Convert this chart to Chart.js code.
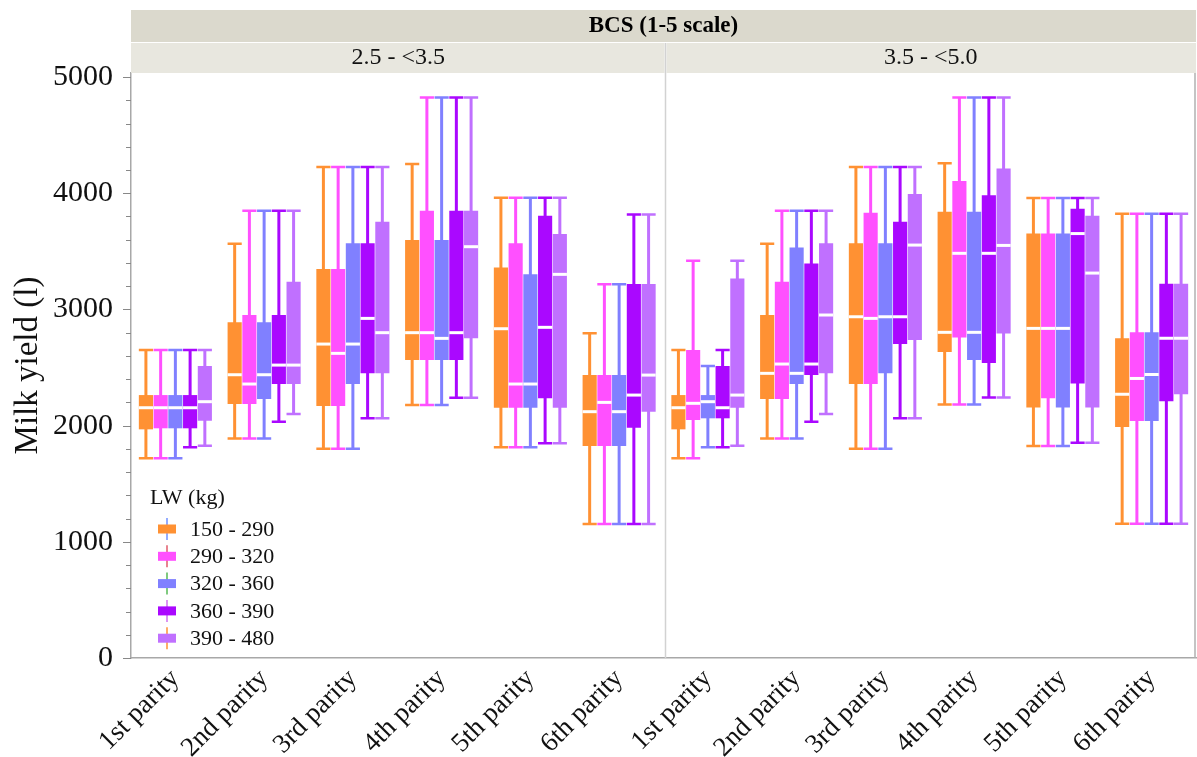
<!DOCTYPE html>
<html>
<head>
<meta charset="utf-8">
<title>Milk yield by parity, BCS and LW</title>
<script src="https://cdn.jsdelivr.net/npm/chart.js@4.4.1/dist/chart.umd.min.js"></script>
<style>
  html, body { margin: 0; padding: 0; background: #ffffff; }
  #wrap { width: 1197px; height: 757px; }
</style>
</head>
<body>
<div id="wrap"><canvas id="yieldChart" width="1197" height="757"></canvas></div>
<script>
// Categories and panels
const parities = ['1st parity', '2nd parity', '3rd parity', '4th parity', '5th parity', '6th parity'];
const bcsPanels = ['2.5 - <3.5', '3.5 - <5.0'];
const bcsTitle = 'BCS (1-5 scale)';
const lwGroups = ['150 - 290', '290 - 320', '320 - 360', '360 - 390', '390 - 480'];
const lwColors = ['#FF9133', '#FF50FF', '#8080FF', '#AA08FF', '#C070FF'];
const legendLineColors = ['#7090FF', '#E05A6A', '#55B855', '#D070F0', '#FF9133'];
const yTickValues = [0, 1000, 2000, 3000, 4000, 5000];
const yMinorStep = 200;

// Box statistics: one row per LW group, 12 values (panel 1: parity 1-6, panel 2: parity 1-6)
const whiskerLow = [
  [1720, 1890, 1800, 2177, 1813, 1153, 1720, 1890, 1800, 2181, 1825, 1155],
  [1720, 1890, 1800, 2177, 1813, 1153, 1720, 1890, 1800, 2181, 1825, 1155],
  [1720, 1890, 1800, 2177, 1813, 1153, 1813, 1890, 1800, 2181, 1825, 1155],
  [1813, 2034, 2063, 2240, 1848, 1153, 1813, 2034, 2063, 2243, 1852, 1155],
  [1827, 2100, 2063, 2240, 1848, 1153, 1827, 2100, 2063, 2243, 1852, 1155]
];
const boxQ1 = [
  [1968, 2186, 2169, 2565, 2154, 1824, 1968, 2229, 2358, 2633, 2157, 1988],
  [1977, 2186, 2169, 2565, 2154, 1824, 2048, 2229, 2358, 2759, 2236, 2039],
  [1977, 2229, 2358, 2565, 2154, 1824, 2063, 2358, 2450, 2565, 2157, 2039],
  [1977, 2358, 2450, 2565, 2235, 1982, 2063, 2435, 2702, 2538, 2362, 2209],
  [2042, 2358, 2450, 2751, 2154, 2120, 2154, 2450, 2737, 2793, 2157, 2270]
];
const boxMedian = [
  [2154, 2438, 2702, 2800, 2834, 2120, 2154, 2450, 2937, 2803, 2837, 2270],
  [2154, 2358, 2622, 2800, 2358, 2200, 2192, 2530, 2923, 3483, 2837, 2406],
  [2154, 2438, 2702, 2751, 2358, 2120, 2206, 2450, 2937, 2803, 2837, 2440],
  [2154, 2521, 2923, 2800, 2846, 2263, 2154, 2530, 2937, 3483, 3653, 2752],
  [2206, 2521, 2800, 3540, 3302, 2435, 2263, 2952, 3554, 3551, 3313, 2752]
];
const boxQ3 = [
  [2263, 2889, 3348, 3597, 3362, 2435, 2263, 2952, 3569, 3840, 3653, 2752],
  [2263, 2952, 3348, 3850, 3569, 2435, 2651, 3239, 3832, 4105, 3653, 2803],
  [2263, 2889, 3569, 3597, 3302, 2435, 2263, 3534, 3569, 3840, 3653, 2803],
  [2263, 2952, 3569, 3850, 3807, 3219, 2513, 3396, 3755, 3982, 3867, 3221],
  [2513, 3239, 3755, 3850, 3649, 3219, 3267, 3569, 3993, 4214, 3806, 3221]
];
const whiskerHigh = [
  [2651, 3566, 4225, 4251, 3962, 2794, 2651, 3566, 4225, 4258, 3960, 3823],
  [2651, 3850, 4225, 4825, 3962, 3216, 3419, 3850, 4225, 4825, 3960, 3823],
  [2651, 3850, 4225, 4825, 3962, 3216, 2513, 3850, 4225, 4825, 3960, 3823],
  [2651, 3850, 4225, 4825, 3962, 3818, 2651, 3850, 4225, 4825, 3960, 3823],
  [2651, 3850, 4225, 4825, 3962, 3818, 3419, 3850, 4225, 4825, 3960, 3823]
];

const SERIF = '"Liberation Serif", "DejaVu Serif", serif';

document.addEventListener('DOMContentLoaded', function() {
  setupYieldChart();
});

// Build the 12 category labels (two BCS panels side by side)
function buildLabels() {
  const labels = [];
  bcsPanels.forEach(() => parities.forEach(p => labels.push(p)));
  return labels;
}

// Boxes are floating bars [q1, q3]
function buildDatasets() {
  return lwGroups.map((name, i) => ({
    label: name,
    data: boxQ1[i].map((q1, j) => [q1, boxQ3[i][j]]),
    backgroundColor: lwColors[i],
    borderWidth: 0,
    categoryPercentage: 0.83,
    barPercentage: 0.96
  }));
}

// Whiskers behind the boxes, medians on top
const boxPlotPlugin = {
  id: 'boxPlot',
  beforeDatasetsDraw(chart) {
    const ctx = chart.ctx;
    const y = chart.scales.y;
    ctx.save();
    lwGroups.forEach((name, i) => {
      const meta = chart.getDatasetMeta(i);
      meta.data.forEach((bar, j) => {
        const yLo = y.getPixelForValue(whiskerLow[i][j]);
        const yHi = y.getPixelForValue(whiskerHigh[i][j]);
        const half = bar.width / 2;
        ctx.strokeStyle = lwColors[i];
        ctx.lineWidth = 3;
        ctx.beginPath();
        ctx.moveTo(bar.x, yHi);
        ctx.lineTo(bar.x, yLo);
        ctx.stroke();
        ctx.lineWidth = 2.5;
        ctx.beginPath();
        ctx.moveTo(bar.x - half, yHi);
        ctx.lineTo(bar.x + half, yHi);
        ctx.moveTo(bar.x - half, yLo);
        ctx.lineTo(bar.x + half, yLo);
        ctx.stroke();
      });
    });
    ctx.restore();
  },
  afterDatasetsDraw(chart) {
    const ctx = chart.ctx;
    const y = chart.scales.y;
    ctx.save();
    ctx.strokeStyle = '#ffffff';
    ctx.lineWidth = 3;
    lwGroups.forEach((name, i) => {
      const meta = chart.getDatasetMeta(i);
      meta.data.forEach((bar, j) => {
        const ym = y.getPixelForValue(boxMedian[i][j]);
        ctx.beginPath();
        ctx.moveTo(bar.x - bar.width / 2, ym);
        ctx.lineTo(bar.x + bar.width / 2, ym);
        ctx.stroke();
      });
    });
    ctx.restore();
  }
};

// Panel strips, divider, frame, y ticks and the LW legend
const panelPlugin = {
  id: 'panels',
  afterDraw(chart) {
    const ctx = chart.ctx;
    const area = chart.chartArea;
    const x = chart.scales.x;
    const y = chart.scales.y;
    const divider = (x.getPixelForTick(5) + x.getPixelForTick(6)) / 2 + 2;

    ctx.save();
    // top strip
    ctx.fillStyle = '#DBD9CD';
    ctx.fillRect(area.left, 10, area.right - area.left, 32);
    ctx.fillStyle = '#000';
    ctx.font = 'bold 23px ' + SERIF;
    ctx.textAlign = 'center';
    ctx.textBaseline = 'middle';
    ctx.fillText(bcsTitle, (area.left + area.right) / 2, 26);

    // panel strips
    ctx.fillStyle = '#E8E7DF';
    ctx.fillRect(area.left, 43, divider - area.left - 1, 30);
    ctx.fillRect(divider + 1, 43, area.right - divider - 1, 30);
    ctx.fillStyle = '#111';
    ctx.font = '24px ' + SERIF;
    ctx.fillText(bcsPanels[0], (area.left + divider) / 2, 58);
    ctx.fillText(bcsPanels[1], (divider + area.right) / 2, 58);

    // divider and right frame
    ctx.strokeStyle = '#D2D2D2';
    ctx.lineWidth = 1.5;
    ctx.beginPath();
    ctx.moveTo(divider, 43);
    ctx.lineTo(divider, area.bottom);
    ctx.stroke();
    ctx.strokeStyle = '#B0B0B0';
    ctx.beginPath();
    ctx.moveTo(area.right - 1, area.top);
    ctx.lineTo(area.right - 1, area.bottom);
    ctx.stroke();

    // y ticks: long at labelled values, short in between
    ctx.strokeStyle = '#888';
    ctx.lineWidth = 1;
    y.ticks.forEach(t => {
      const py = Math.round(y.getPixelForValue(t.value)) + 0.5;
      const len = yTickValues.includes(t.value) ? 8 : 5;
      ctx.beginPath();
      ctx.moveTo(area.left - len, py);
      ctx.lineTo(area.left, py);
      ctx.stroke();
    });

    // legend
    ctx.textAlign = 'left';
    ctx.fillStyle = '#111';
    ctx.font = '22px ' + SERIF;
    ctx.fillText('LW (kg)', 150, 498);
    lwGroups.forEach((name, i) => {
      const cy = 529 + i * 27.3;
      ctx.strokeStyle = legendLineColors[i];
      ctx.lineWidth = 1.5;
      ctx.beginPath();
      ctx.moveTo(167, cy - 11);
      ctx.lineTo(167, cy + 11);
      ctx.stroke();
      ctx.fillStyle = lwColors[i];
      ctx.fillRect(158, cy - 4.5, 18, 9);
      ctx.fillStyle = '#111';
      ctx.fillText(name, 190, cy + 1);
    });
    ctx.restore();
  }
};

function setupYieldChart() {
  const ctx = document.getElementById('yieldChart').getContext('2d');
  const topTick = yTickValues[yTickValues.length - 1];

  new Chart(ctx, {
    type: 'bar',
    data: {
      labels: buildLabels(),
      datasets: buildDatasets()
    },
    options: {
      responsive: false,
      animation: false,
      layout: { padding: { top: 73, right: 1, left: 0, bottom: 0 } },
      plugins: {
        legend: { display: false },
        tooltip: { enabled: false }
      },
      scales: {
        x: {
          grid: { display: false, drawTicks: false },
          border: { display: true, color: '#A8A8A8', width: 1.5 },
          ticks: {
            color: '#111',
            font: { family: SERIF, size: 27 },
            minRotation: 45,
            maxRotation: 45,
            padding: 5,
            autoSkip: false
          },
          afterFit(scale) { scale.height = 99; }
        },
        y: {
          min: 0,
          max: 5035,
          grid: { display: false, drawTicks: false },
          border: { display: true, color: '#A8A8A8', width: 1.5 },
          ticks: {
            autoSkip: false,
            color: '#111',
            padding: 18,
            font: { family: SERIF, size: 30 },
            callback: v => (yTickValues.includes(v) ? String(v) : '')
          },
          afterBuildTicks(scale) {
            // labelled ticks every 1000, unlabelled minor ticks every 200
            const ticks = [];
            for (let v = 0; v <= topTick; v += yMinorStep) {
              ticks.push({ value: v });
            }
            scale.ticks = ticks;
          },
          title: {
            display: true,
            text: 'Milk yield (l)',
            color: '#111',
            font: { family: SERIF, size: 33 },
            padding: { top: 9, bottom: 0 }
          },
          afterFit(scale) { scale.width = 131; }
        }
      }
    },
    plugins: [boxPlotPlugin, panelPlugin]
  });
}
</script>
</body>
</html>
